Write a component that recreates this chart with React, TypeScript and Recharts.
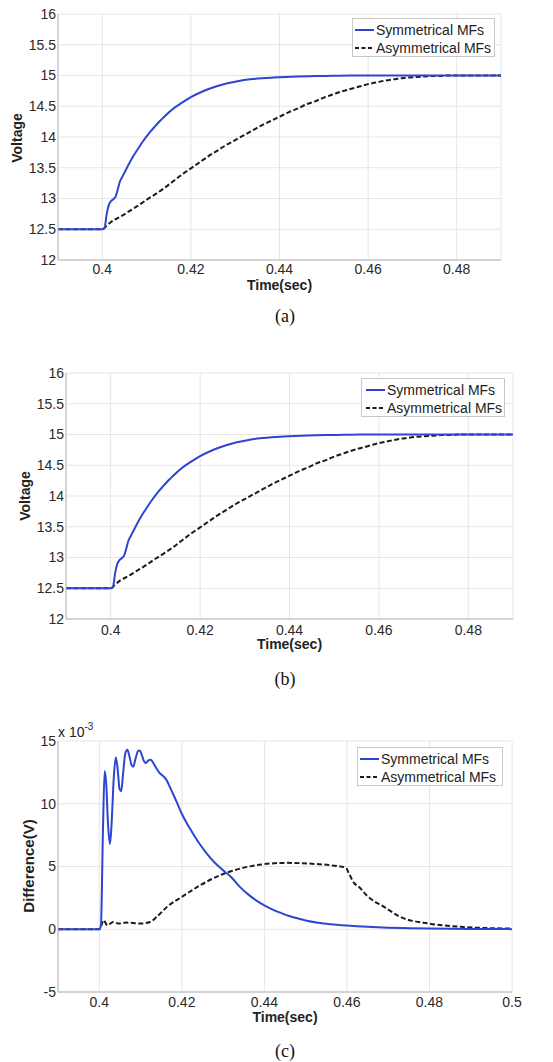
import React from 'react';
import { LineChart, Line, XAxis, YAxis, CartesianGrid } from 'recharts';

// Voltage response, symmetrical MFs (panels a and b)
const symTimes = [0.39, 0.4, 0.4005, 0.401, 0.4015, 0.402, 0.4025, 0.403, 0.4035, 0.404, 0.4045, 0.405, 0.406, 0.407, 0.408, 0.409, 0.41, 0.411, 0.412, 0.413, 0.414, 0.415, 0.416, 0.418, 0.42, 0.422, 0.424, 0.426, 0.428, 0.43, 0.432, 0.434, 0.436, 0.438, 0.44, 0.444, 0.448, 0.452, 0.456, 0.49];
const symVolts = [12.5, 12.5, 12.52, 12.75, 12.9, 12.96, 12.99, 13.03, 13.15, 13.28, 13.35, 13.42, 13.56, 13.69, 13.8, 13.91, 14.01, 14.1, 14.18, 14.26, 14.33, 14.4, 14.46, 14.56, 14.65, 14.72, 14.78, 14.83, 14.87, 14.9, 14.925, 14.942, 14.955, 14.965, 14.972, 14.983, 14.99, 14.995, 15, 15];

// Voltage response, asymmetrical MFs (panels a and b)
const asymTimes = [0.39, 0.4, 0.401, 0.402, 0.404, 0.406, 0.408, 0.41, 0.412, 0.414, 0.416, 0.418, 0.42, 0.422, 0.424, 0.426, 0.428, 0.43, 0.432, 0.434, 0.436, 0.438, 0.44, 0.442, 0.444, 0.446, 0.448, 0.45, 0.452, 0.454, 0.456, 0.458, 0.46, 0.462, 0.464, 0.466, 0.468, 0.47, 0.472, 0.474, 0.476, 0.478, 0.49];
const asymVolts = [12.5, 12.5, 12.56, 12.62, 12.7, 12.79, 12.88, 12.98, 13.07, 13.17, 13.28, 13.39, 13.49, 13.59, 13.69, 13.78, 13.87, 13.95, 14.03, 14.11, 14.19, 14.26, 14.33, 14.4, 14.46, 14.53, 14.58, 14.64, 14.69, 14.74, 14.78, 14.82, 14.86, 14.89, 14.92, 14.94, 14.96, 14.97, 14.98, 14.99, 14.99, 15, 15];

// Difference (x 10^-3 V), panel c
const diffSymTimes = [0.39, 0.4, 0.4004, 0.4009, 0.4013, 0.4017, 0.4021, 0.4026, 0.403, 0.4035, 0.404, 0.4045, 0.4049, 0.4053, 0.4058, 0.4063, 0.4068, 0.4073, 0.4078, 0.4082, 0.4088, 0.4094, 0.4098, 0.4103, 0.4108, 0.4113, 0.4119, 0.4125, 0.413, 0.4137, 0.4145, 0.4155, 0.4163, 0.417, 0.418, 0.419, 0.42, 0.422, 0.424, 0.426, 0.428, 0.43, 0.432, 0.434, 0.436, 0.438, 0.44, 0.442, 0.444, 0.446, 0.448, 0.45, 0.453, 0.456, 0.46, 0.465, 0.47, 0.475, 0.48, 0.49, 0.5];
const diffSymVals = [0, 0, 0.3, 8, 12.6, 11.5, 8.5, 6.8, 8.5, 12, 13.7, 12.6, 11.2, 11, 12.5, 14, 14.3, 13.8, 13.1, 12.95, 13.6, 14.2, 14.25, 13.9, 13.4, 13.25, 13.45, 13.5, 13.3, 12.9, 12.5, 12.2, 11.9, 11.4, 10.7, 9.95, 9.2, 8.0, 6.95, 6.05, 5.3, 4.7, 4.15, 3.4, 2.8, 2.3, 1.9, 1.57, 1.3, 1.05, 0.87, 0.7, 0.52, 0.4, 0.29, 0.19, 0.12, 0.08, 0.05, 0.02, 0.01];

const diffAsymTimes = [0.39, 0.4, 0.4005, 0.401, 0.402, 0.4034, 0.4046, 0.4066, 0.4099, 0.4123, 0.4139, 0.4164, 0.42, 0.4245, 0.4293, 0.4342, 0.44, 0.4455, 0.4504, 0.456, 0.4597, 0.4605, 0.4617, 0.4629, 0.4649, 0.469, 0.473, 0.48, 0.4876, 0.4933, 0.5];
const diffAsymVals = [0, 0, 0.3, 0.72, 0.32, 0.58, 0.45, 0.53, 0.45, 0.58, 0.98, 1.78, 2.58, 3.51, 4.31, 4.84, 5.19, 5.29, 5.24, 5.1, 4.92, 4.44, 3.7, 3.38, 2.66, 1.78, 0.98, 0.45, 0.19, 0.1, 0.05];

const voltTicks = [12, 12.5, 13, 13.5, 14, 14.5, 15, 15.5, 16];
const diffTicks = [-5, 0, 5, 10, 15];
const timeTicksAB = [0.4, 0.42, 0.44, 0.46, 0.48];
const timeTicksC = [0.4, 0.42, 0.44, 0.46, 0.48, 0.5];

const SANS = '"Liberation Sans", Arial, Helvetica, sans-serif';
const SERIF = '"Liberation Serif", "Times New Roman", serif';
const BLUE = '#2d45d0';
const BLACK = '#1c1c1c';
const AXIS = '#b4b4b4';
const GRID = '#e6e6e6';

const zip = (ts: number[], vs: number[]) => ts.map((t, i) => ({ t, v: vs[i] }));

function LegendBox({ left, top, width, padLeft }: any) {
  const items = [
    { name: 'Symmetrical MFs', color: BLUE, dash: undefined },
    { name: 'Asymmetrical MFs', color: BLACK, dash: '4 2.5' },
  ];
  return (
    <div
      style={{
        position: 'absolute', left, top, width, height: 39, boxSizing: 'border-box',
        border: '1px solid #c8c8c8', background: '#fff', paddingTop: 2, paddingLeft: padLeft,
        fontFamily: SANS, fontSize: 14, color: '#222',
      }}
    >
      {items.map((it) => (
        <div key={it.name} style={{ height: 18, lineHeight: '18px', display: 'flex', alignItems: 'center', whiteSpace: 'nowrap' }}>
          <svg width={19} height={4} style={{ marginRight: 2 }}>
            <line x1={0} y1={2} x2={19} y2={2} stroke={it.color} strokeWidth={2} strokeDasharray={it.dash} />
          </svg>
          {it.name}
        </div>
      ))}
    </div>
  );
}

function Panel(p: any) {
  return (
    <>
      <div style={{ position: 'absolute', left: 0, top: p.top, width: 553, height: p.height }}>
        <LineChart width={553} height={p.height} margin={{ top: p.mt, right: p.mr, left: 0, bottom: 0 }}>
          <CartesianGrid stroke={GRID} />
          <XAxis
            dataKey="t" type="number" domain={p.xDomain} ticks={p.xTicks} allowDataOverflow
            height={p.xHeight} tickLine={false} tickSize={0} tickMargin={p.tickMargin}
            axisLine={{ stroke: AXIS }} tick={{ fill: '#2a2a2a', fontSize: 14, fontFamily: SANS }}
            label={{ value: 'Time(sec)', position: 'insideTop', offset: 20, style: { fontFamily: SANS, fontSize: 14, fontWeight: 'bold', fill: '#222' } }}
          />
          <XAxis xAxisId="top" orientation="top" type="number" domain={p.xDomain} height={0} tick={false} tickLine={false} axisLine={{ stroke: AXIS }} />
          <YAxis
            type="number" domain={p.yDomain} ticks={p.yTicks} allowDataOverflow width={p.yWidth}
            tickLine={false} tickSize={0} tickMargin={2} axisLine={{ stroke: AXIS }}
            tick={{ fill: '#2a2a2a', fontSize: 14, fontFamily: SANS }}
          />
          <YAxis yAxisId="right" orientation="right" type="number" domain={p.yDomain} width={0} tick={false} tickLine={false} axisLine={{ stroke: AXIS }} />
          <Line data={p.asym} dataKey="v" type="monotone" stroke={BLACK} strokeWidth={2} strokeDasharray="5 2.5" dot={false} isAnimationActive={false} />
          <Line data={p.sym} dataKey="v" type="monotone" stroke={BLUE} strokeWidth={2} dot={false} isAnimationActive={false} />
        </LineChart>
      </div>
      <div
        style={{
          position: 'absolute', left: p.yLabel[0], top: p.yLabel[1], transform: 'translate(-50%, -50%) rotate(-90deg)',
          fontFamily: SANS, fontWeight: 'bold', fontSize: p.yLabelSize, color: '#222', whiteSpace: 'nowrap',
        }}
      >
        {p.yLabelText}
      </div>
      <LegendBox {...p.legend} />
      <div
        style={{
          position: 'absolute', left: 285, top: p.caption, transform: 'translate(-50%, -50%)',
          fontFamily: SERIF, fontSize: 18, color: '#111', whiteSpace: 'nowrap',
        }}
      >
        {p.captionText}
      </div>
    </>
  );
}

export default function App() {
  const symV = zip(symTimes, symVolts);
  const asymV = zip(asymTimes, asymVolts);
  const symD = zip(diffSymTimes, diffSymVals);
  const asymD = zip(diffAsymTimes, diffAsymVals);

  return (
    <div style={{ position: 'relative', width: 553, height: 1062, background: '#fff', overflow: 'hidden' }}>
      <style>{'body { margin: 0; }'}</style>

      {/* (a) */}
      <Panel
        top={0} height={300} mt={14} mr={52} yWidth={58} xHeight={40} tickMargin={4}
        xDomain={[0.39, 0.49]} xTicks={timeTicksAB} yDomain={[12, 16]} yTicks={voltTicks}
        sym={symV} asym={asymV}
        yLabel={[17, 138]} yLabelText="Voltage" yLabelSize={14}
        legend={{ left: 352, top: 18, width: 143, padLeft: 2 }}
        caption={316} captionText="(a)"
      />

      {/* (b) */}
      <Panel
        top={340} height={320} mt={33} mr={40} yWidth={66} xHeight={41} tickMargin={6}
        xDomain={[0.39, 0.49]} xTicks={timeTicksAB} yDomain={[12, 16]} yTicks={voltTicks}
        sym={symV} asym={asymV}
        yLabel={[25, 496]} yLabelText="Voltage" yLabelSize={14}
        legend={{ left: 361, top: 378, width: 144, padLeft: 4 }}
        caption={679} captionText="(b)"
      />

      {/* (c) */}
      <Panel
        top={700} height={340} mt={41} mr={41} yWidth={58} xHeight={48} tickMargin={5}
        xDomain={[0.39, 0.5]} xTicks={timeTicksC} yDomain={[-5, 15]} yTicks={diffTicks}
        sym={symD} asym={asymD}
        yLabel={[28, 866]} yLabelText="Difference(V)" yLabelSize={15}
        legend={{ left: 357, top: 747, width: 146, padLeft: 2 }}
        caption={1051} captionText="(c)"
      />
      <div style={{ position: 'absolute', left: 58, top: 725, fontFamily: SANS, fontSize: 14, color: '#222', lineHeight: '14px', whiteSpace: 'nowrap' }}>
        x 10<span style={{ fontSize: 10, position: 'relative', top: -7 }}>-3</span>
      </div>
    </div>
  );
}
